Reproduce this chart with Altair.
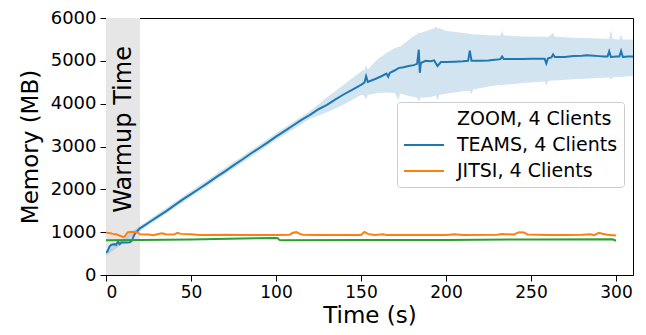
import altair as alt
import pandas as pd

# ---- data ----
teams_t = [0, 1, 2, 3, 4, 5, 6, 7, 8, 9, 10, 12, 14, 15, 16, 17, 18, 19, 20, 22,
           25, 30, 35, 40, 45, 50, 55, 60, 65, 70, 75, 80, 85, 90, 95, 100, 105, 110, 115, 120,
           125, 130, 135, 140, 145, 150, 152, 153, 154, 158, 162, 165, 166, 167, 170, 172, 175, 178, 181, 183,
           184, 184.6, 185.2, 188, 191, 193, 195, 197, 200, 205, 210, 213, 214, 215, 220, 225, 230, 232, 233, 234,
           240, 245, 250, 255, 258, 259, 260, 262, 263, 264, 270, 275, 280, 283, 287, 290, 293, 295, 296, 297,
           300, 302, 303, 304, 307, 310]
teams_v = [520, 560, 660, 700, 710, 720, 700, 780, 720, 760, 760, 760, 765, 790, 880, 960, 1010, 1050, 1090, 1140,
           1220, 1350, 1480, 1620, 1760, 1890, 2020, 2150, 2290, 2420, 2560, 2690, 2830, 2960, 3090, 3230, 3360, 3490, 3620, 3740,
           3870, 3970, 4100, 4220, 4330, 4440, 4490, 4640, 4510, 4570, 4640, 4700, 4630, 4720, 4780, 4830, 4850, 4880, 4900, 4930,
           5260, 4720, 4950, 5000, 4990, 5010, 4880, 4970, 4970, 4980, 4990, 5000, 5240, 5000, 5000, 5010, 5030, 5040, 5100, 5040,
           5040, 5040, 5050, 5050, 5050, 4940, 5060, 5080, 5150, 5090, 5090, 5110, 5120, 5130, 5120, 5110, 5100, 5100, 5220, 5090,
           5100, 5100, 5230, 5090, 5100, 5100]

band_t = [0, 20, 50, 100, 120, 130, 140, 150, 152, 153, 154, 160, 165, 170, 172, 173, 180, 183, 184, 185,
          190, 193, 194, 195, 196, 200, 210, 214, 215, 216, 225, 232, 233, 234, 245, 258, 259, 260, 263, 264,
          275, 290, 296, 297, 298, 302, 303, 304, 310]
band_lo = [450, 1030, 1820, 3150, 3650, 3800, 3980, 4200, 4190, 4100, 4200, 4250, 4260, 4250, 4080, 4240, 4160, 4140, 4050, 4140,
           4150, 4180, 4190, 4080, 4200, 4230, 4290, 4300, 4220, 4330, 4400, 4440, 4420, 4440, 4480, 4520, 4420, 4530, 4540, 4540,
           4570, 4600, 4610, 4560, 4610, 4630, 4620, 4630, 4650]
band_hi = [560, 1150, 1960, 3310, 3830, 4150, 4450, 4750, 4800, 4900, 4800, 5050, 5180, 5300, 5330, 5330, 5550, 5620, 5660, 5650,
           5720, 5760, 5800, 5760, 5760, 5700, 5650, 5630, 5620, 5620, 5600, 5590, 5700, 5590, 5570, 5560, 5560, 5560, 5650, 5560,
           5540, 5520, 5510, 5720, 5510, 5500, 5620, 5500, 5500]

jitsi_t = [0, 2, 4, 6, 8, 10, 11, 12, 13, 15, 17, 18, 19, 20, 25, 28, 30, 33, 35, 40,
           42, 44, 50, 55, 60, 70, 80, 90, 100, 108, 110, 112, 114, 116, 125, 150, 152, 154, 158, 163,
           165, 200, 205, 210, 230, 233, 240, 243, 246, 248, 260, 270, 280, 285, 287, 290, 292, 295, 300]
jitsi_v = [985, 980, 960, 950, 920, 890, 900, 960, 1000, 1010, 1000, 1005, 980, 950, 945, 930, 950, 975, 950, 945,
           985, 960, 950, 935, 935, 940, 935, 935, 935, 940, 985, 1000, 960, 940, 935, 935, 1005, 960, 935, 950,
           935, 935, 950, 935, 940, 955, 945, 1000, 990, 945, 935, 935, 940, 950, 930, 985, 965, 940, 920]

zoom_t = [0, 20, 50, 80, 100, 101, 102, 103, 150, 200, 250, 298, 300]
zoom_v = [810, 815, 830, 850, 865, 860, 820, 810, 815, 820, 830, 835, 800]

series_names = ["ZOOM, 4 Clients", "TEAMS, 4 Clients", "JITSI, 4 Clients"]
series_colors = ["rgba(0,0,0,0)", "#1f77b4", "#ff7f0e"]

warmup_start, warmup_end = [0], [20]
warmup_label = ["Warmup Time"]
x_ticks = [0, 50, 100, 150, 200, 250, 300]
y_ticks = [0, 1000, 2000, 3000, 4000, 5000, 6000]

assert len(teams_t) == len(teams_v)
assert len(band_t) == len(band_lo) == len(band_hi)
assert len(jitsi_t) == len(jitsi_v)
assert len(zoom_t) == len(zoom_v)

FONT = "DejaVu Sans"

lines_df = pd.concat([
    pd.DataFrame({"t": teams_t, "v": teams_v, "series": series_names[1]}),
    pd.DataFrame({"t": jitsi_t, "v": jitsi_v, "series": series_names[2]}),
])
band_df = pd.DataFrame({"t": band_t, "lo": band_lo, "hi": band_hi})
green_df = pd.DataFrame({"t": zoom_t, "v": zoom_v})
warm_df = pd.DataFrame({"x0": warmup_start, "x1": warmup_end, "y0": [0], "y1": [6000]})
label_df = pd.DataFrame({"x": [10.5], "y": [3400], "text": warmup_label})

xscale = alt.Scale(domain=[0, 310], nice=False, zero=False)
yscale = alt.Scale(domain=[0, 6000], nice=False)

xaxis = alt.Axis(values=x_ticks, title="Time (s)", grid=False, format="d")
yaxis = alt.Axis(values=y_ticks, title="Memory (MB)", grid=False, format="d")

warm = alt.Chart(warm_df).mark_rect(color="#e6e6e6").encode(
    x=alt.X("x0:Q", scale=xscale, axis=xaxis),
    x2="x1:Q",
    y=alt.Y("y0:Q", scale=yscale, axis=yaxis),
    y2="y1:Q",
)

band = alt.Chart(band_df).mark_area(color="#1f77b4", opacity=0.2).encode(
    x=alt.X("t:Q", scale=xscale),
    y=alt.Y("lo:Q", scale=yscale),
    y2="hi:Q",
)

lines = alt.Chart(lines_df).mark_line(strokeWidth=2, clip=True).encode(
    x=alt.X("t:Q", scale=xscale),
    y=alt.Y("v:Q", scale=yscale),
    color=alt.Color(
        "series:N",
        scale=alt.Scale(domain=series_names, range=series_colors),
        legend=alt.Legend(
            title=None,
            orient="none",
            legendX=291,
            legendY=84,
            symbolType="M-2,0L2,0",
            symbolSize=400,
            symbolStrokeWidth=2,
            symbolOffset=10,
            labelFontSize=19,
            labelFont=FONT,
            labelColor="black",
            labelOffset=22,
            labelLimit=400,
            rowPadding=5,
            padding=6,
            fillColor="rgba(255,255,255,0.85)",
            strokeColor="#cccccc",
            cornerRadius=3,
        ),
    ),
)

green = alt.Chart(green_df).mark_line(strokeWidth=2, color="#2ca02c").encode(
    x=alt.X("t:Q", scale=xscale),
    y=alt.Y("v:Q", scale=yscale),
)

label = alt.Chart(label_df).mark_text(
    angle=270, fontSize=24, font=FONT, color="black", align="center", baseline="middle"
).encode(
    x=alt.X("x:Q", scale=xscale),
    y=alt.Y("y:Q", scale=yscale),
    text="text:N",
)

chart = alt.layer(warm, label, band, lines, green).properties(
    width=527,
    height=257,
    autosize=alt.AutoSizeParams(type="none"),
    padding={"left": 98, "top": 10, "right": 5, "bottom": 52},
).configure_view(
    stroke="black", strokeWidth=1
).configure_axis(
    labelFont=FONT, titleFont=FONT, labelFontSize=18, titleFontSize=23,
    labelColor="black", titleColor="black", titleFontWeight="normal",
    tickColor="black", domainColor="black", tickSize=6, labelPadding=4,
).configure_axisY(
    titlePadding=8,
).configure_axisX(
    labelPadding=3, labelFontSize=17, titleY=47, titleBaseline="alphabetic",
)

chart.save("out.html", embed_options={"renderer": "svg", "actions": False})
